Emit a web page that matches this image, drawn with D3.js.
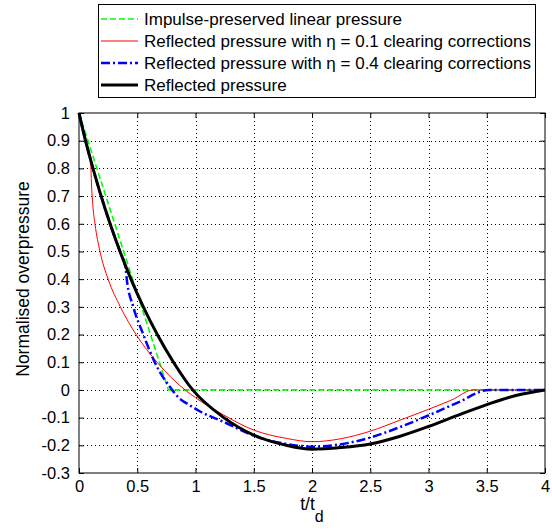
<!DOCTYPE html>
<html>
<head>
<meta charset="utf-8">
<script src="https://cdn.jsdelivr.net/npm/d3@7"></script>
<style>
  body { margin: 0; background: #fff; }
  svg { font-family: "Liberation Sans", Arial, sans-serif; }
</style>
</head>
<body>
<svg width="552" height="530"></svg>
<script>
// values (t/td, normalised overpressure)
var linearT = [0, 0.767, 4];
var linearP = [1, 0, 0];

var eta01T = [0, 0.055, 0.1, 0.104, 0.11, 0.12, 0.137, 0.18, 0.25, 0.355, 0.49, 0.67, 0.91, 1.0, 1.24, 1.5, 1.78, 2.0, 2.25, 2.5, 2.75, 3.0, 3.2, 3.385, 3.7, 4];
var eta01P = [1, 0.9, 0.83, 0.78, 0.72, 0.66, 0.6, 0.5, 0.4, 0.3, 0.2, 0.1, 0, -0.028, -0.09, -0.145, -0.175, -0.187, -0.176, -0.149, -0.11, -0.07, -0.036, 0, 0, 0];

var eta04T = [0, 0.056, 0.12, 0.19, 0.267, 0.352, 0.4, 0.41, 0.466, 0.552, 0.65, 0.8, 0.86, 0.93, 1.04, 1.24, 1.5, 1.78, 2.0, 2.25, 2.5, 2.75, 3.0, 3.25, 3.52, 3.8, 4];
var eta04P = [1, 0.9, 0.8, 0.7, 0.6, 0.5, 0.44, 0.4, 0.3, 0.2, 0.1, 0, -0.03, -0.05, -0.078, -0.115, -0.165, -0.195, -0.205, -0.196, -0.172, -0.135, -0.092, -0.046, 0, 0, 0];

var reflT = [0, 0.056, 0.12, 0.19, 0.267, 0.352, 0.446, 0.552, 0.672, 0.811, 0.976, 1.24, 1.5, 1.78, 2.0, 2.25, 2.5, 2.75, 3.0, 3.25, 3.5, 3.75, 4];
var reflP = [1, 0.9, 0.8, 0.7, 0.6, 0.5, 0.4, 0.3, 0.2, 0.1, 0, -0.099, -0.163, -0.2, -0.214, -0.208, -0.195, -0.168, -0.132, -0.092, -0.053, -0.02, 0];

var xTicks = [0, 0.5, 1, 1.5, 2, 2.5, 3, 3.5, 4];
var yTicks = [-0.3, -0.2, -0.1, 0, 0.1, 0.2, 0.3, 0.4, 0.5, 0.6, 0.7, 0.8, 0.9, 1];

var legendLabels = [
  "Impulse-preserved linear pressure",
  "Reflected pressure with \u03b7 = 0.1 clearing corrections",
  "Reflected pressure with \u03b7 = 0.4 clearing corrections",
  "Reflected pressure"
];

var svg = d3.select("svg");
var pLeft = 79, pRight = 545, pTop = 113, pBottom = 473;

var x = d3.scaleLinear().domain([0, 4]).range([pLeft, pRight]);
var y = d3.scaleLinear().domain([-0.3, 1]).range([pBottom, pTop]);

svg.append("rect").attr("width", 552).attr("height", 530).attr("fill", "#fff");

// grid
var grid = svg.append("g").attr("stroke", "#000").attr("stroke-width", 1)
  .attr("stroke-dasharray", "1,3").attr("shape-rendering", "crispEdges");
grid.selectAll(".gx").data(xTicks.slice(1, -1)).enter().append("line")
  .attr("x1", function (d) { return Math.round(x(d)) + 0.5; })
  .attr("x2", function (d) { return Math.round(x(d)) + 0.5; })
  .attr("y1", pTop).attr("y2", pBottom);
grid.selectAll(".gy").data(yTicks.slice(1, -1)).enter().append("line")
  .attr("y1", function (d) { return Math.round(y(d)) + 0.5; })
  .attr("y2", function (d) { return Math.round(y(d)) + 0.5; })
  .attr("x1", pLeft).attr("x2", pRight);

// axes (ticks inward, box)
var fmt = function (d) { return String(+d.toFixed(1)); };
svg.append("g").attr("transform", "translate(0," + pBottom + ")")
  .call(d3.axisBottom(x).tickValues(xTicks).tickSizeInner(-5).tickSizeOuter(0).tickPadding(7).tickFormat(fmt))
  .call(function (g) { g.select(".domain").remove(); });
svg.append("g").attr("transform", "translate(" + pLeft + ",0)")
  .call(d3.axisLeft(y).tickValues(yTicks).tickSizeInner(-5).tickSizeOuter(0).tickPadding(9).tickFormat(fmt))
  .call(function (g) { g.select(".domain").remove(); });
svg.append("g").attr("transform", "translate(0," + pTop + ")")
  .call(d3.axisTop(x).tickValues(xTicks).tickSizeInner(-5).tickSizeOuter(0).tickFormat(""))
  .call(function (g) { g.select(".domain").remove(); });
svg.append("g").attr("transform", "translate(" + pRight + ",0)")
  .call(d3.axisRight(y).tickValues(yTicks).tickSizeInner(-5).tickSizeOuter(0).tickFormat(""))
  .call(function (g) { g.select(".domain").remove(); });
svg.selectAll(".tick text").attr("font-size", 16.5).attr("font-family", "Liberation Sans, Arial, sans-serif").attr("fill", "#000");
svg.selectAll(".tick line").attr("stroke", "#000");

svg.append("rect").attr("x", pLeft).attr("y", pTop)
  .attr("width", pRight - pLeft).attr("height", pBottom - pTop)
  .attr("fill", "none").attr("stroke", "#000").attr("stroke-width", 1);

// curves
function pts(t, p) { return t.map(function (d, i) { return [d, p[i]]; }); }
var smooth = d3.line().x(function (d) { return x(d[0]); }).y(function (d) { return y(d[1]); }).curve(d3.curveMonotoneX);
var straight = d3.line().x(function (d) { return x(d[0]); }).y(function (d) { return y(d[1]); });

var plot = svg.append("g").attr("fill", "none");
plot.append("path").attr("d", straight(pts(linearT, linearP)))
  .attr("stroke", "#00ff00").attr("stroke-width", 1.6).attr("stroke-dasharray", "6,3");
plot.append("path").attr("d", smooth(pts(eta01T, eta01P)))
  .attr("stroke", "#ff0000").attr("stroke-width", 1);
plot.append("path").attr("d", smooth(pts(eta04T, eta04P)))
  .attr("stroke", "#0000ff").attr("stroke-width", 2.5).attr("stroke-dasharray", "9,3,2,3");
plot.append("path").attr("d", smooth(pts(reflT, reflP)))
  .attr("stroke", "#000").attr("stroke-width", 3);

// axis labels
svg.append("text").attr("x", x(2)).attr("y", 510).attr("text-anchor", "middle")
  .attr("font-size", 17.5)
  .html('t/t<tspan dy="12" font-size="16">d</tspan>');
svg.append("text").attr("transform", "translate(29,279) rotate(-90)")
  .attr("text-anchor", "middle").attr("font-size", 17.5)
  .text("Normalised overpressure");

// legend
var lg = svg.append("g");
lg.append("rect").attr("x", 98.5).attr("y", 4.5).attr("width", 437).attr("height", 93)
  .attr("fill", "#fff").attr("stroke", "#000");
var legendStyles = [
  { c: "#00ff00", w: 1.6, dash: "6,3" },
  { c: "#ff0000", w: 1, dash: null },
  { c: "#0000ff", w: 2.5, dash: "9,3,2,3" },
  { c: "#000", w: 3, dash: null }
];
legendLabels.forEach(function (label, i) {
  var yy = 19 + i * 22;
  lg.append("line").attr("x1", 101).attr("x2", 138).attr("y1", yy).attr("y2", yy)
    .attr("stroke", legendStyles[i].c).attr("stroke-width", legendStyles[i].w)
    .attr("stroke-dasharray", legendStyles[i].dash);
  lg.append("text").attr("x", 144).attr("y", yy).attr("dy", "0.35em")
    .attr("font-size", 17).text(label);
});
</script>
</body>
</html>
